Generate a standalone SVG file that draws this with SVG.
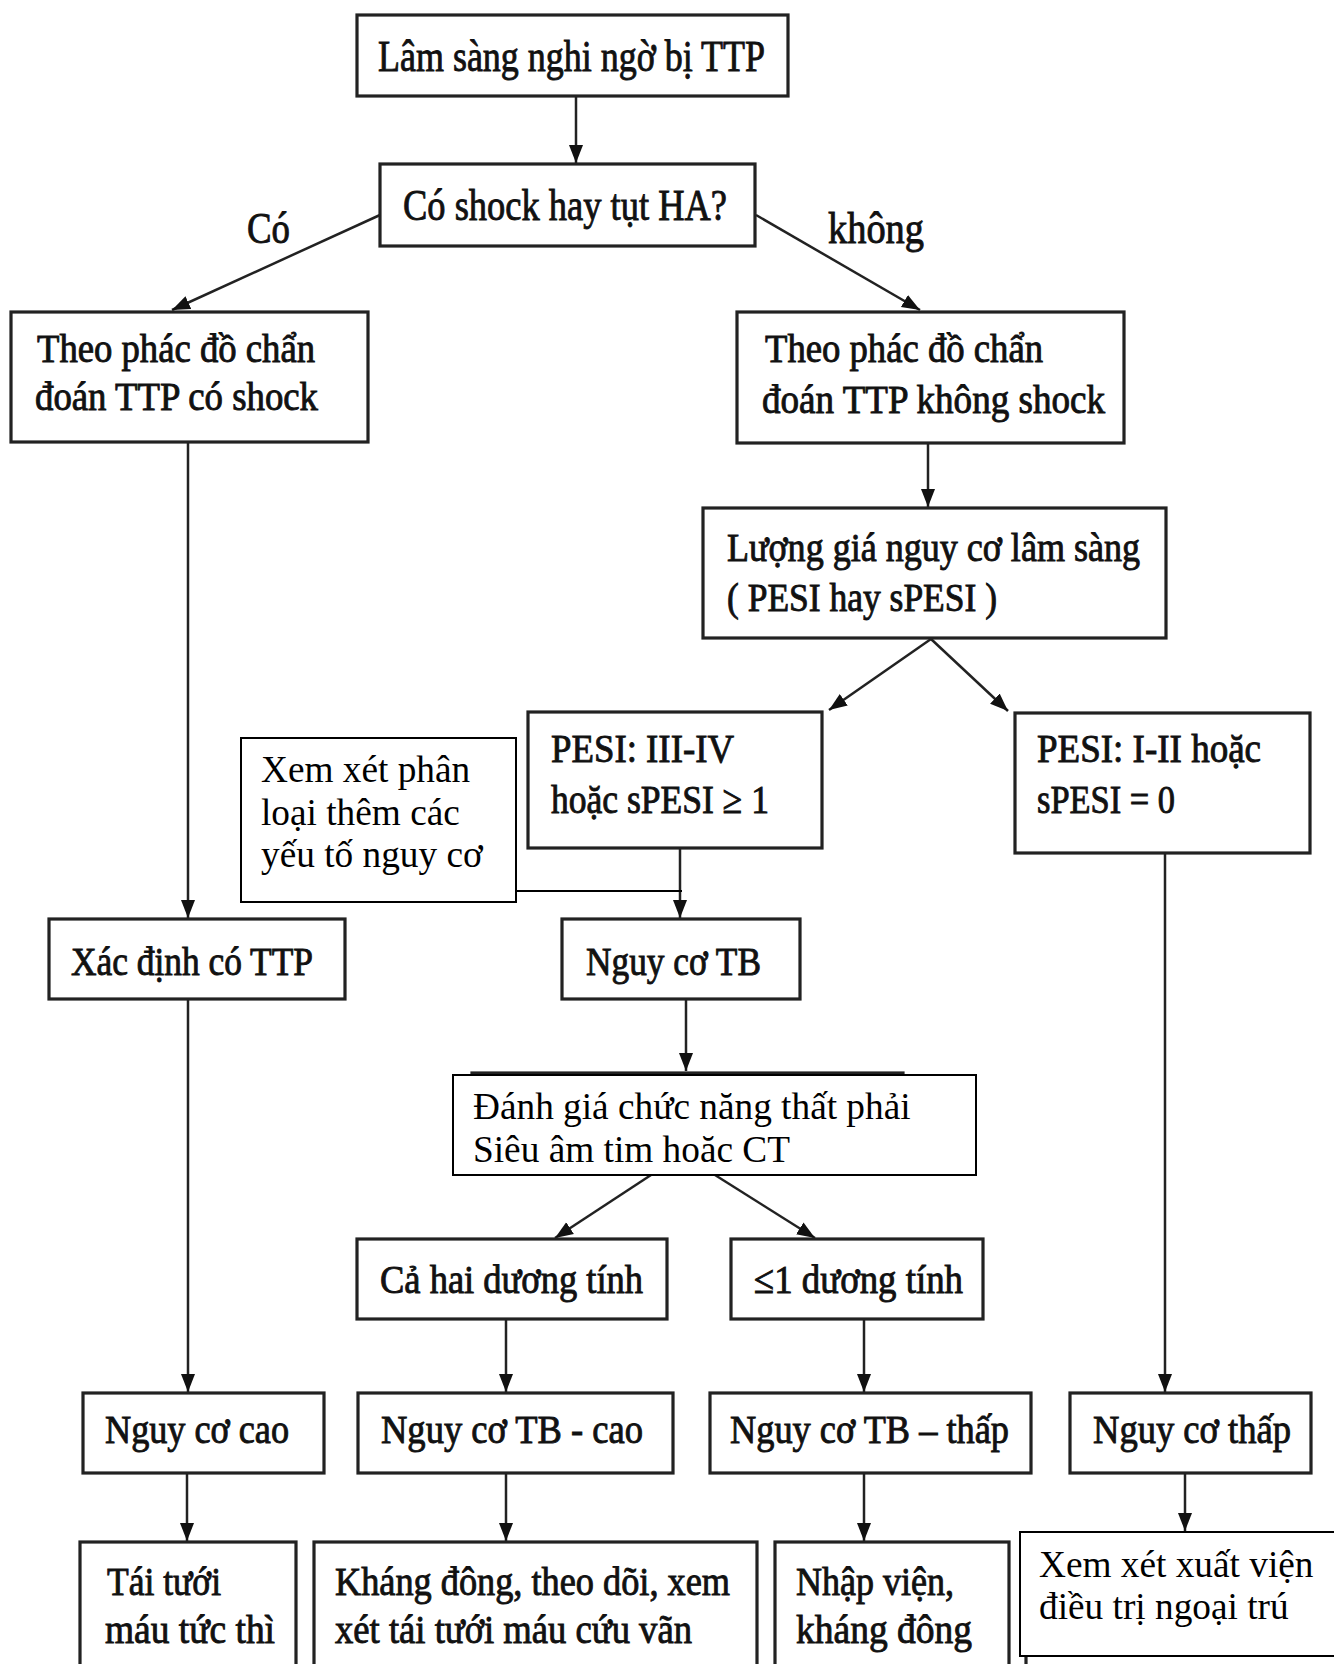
<svg xmlns="http://www.w3.org/2000/svg" width="1334" height="1664" viewBox="0 0 1334 1664">
<style>
.box{fill:#fff;stroke:#222;stroke-width:3.2}
.note{fill:#fff;stroke:#000;stroke-width:2}
.t{font-family:"Liberation Serif","Times New Roman",serif;font-size:40px;fill:#111;stroke:#111;stroke-width:0.9}
.big{font-size:44px}
.n{font-family:"Liberation Serif","Times New Roman",serif;font-size:37.3px;fill:#000}
.c{fill:none;stroke:#222;stroke-width:2.5}
.thin{fill:none;stroke:#000;stroke-width:2}
</style>
<defs>
<marker id="ah" markerUnits="userSpaceOnUse" markerWidth="18" markerHeight="18" viewBox="0 0 18 18" refX="18" refY="9" orient="auto">
<path d="M0,2 L18,9 L0,16 Z" fill="#111"/>
</marker>
</defs>
<rect width="1334" height="1664" fill="#fff"/>

<g id="connectors">
<line class="c" x1="576" y1="96" x2="576" y2="163" marker-end="url(#ah)"/>
<line class="c" x1="380" y1="215" x2="172" y2="310" marker-end="url(#ah)"/>
<line class="c" x1="756" y1="215" x2="920" y2="310" marker-end="url(#ah)"/>
<line class="c" x1="928" y1="443" x2="928" y2="507" marker-end="url(#ah)"/>
<line class="c" x1="931" y1="639" x2="829" y2="710" marker-end="url(#ah)"/>
<line class="c" x1="931" y1="639" x2="1008" y2="711" marker-end="url(#ah)"/>
<line class="c" x1="188" y1="442" x2="188" y2="918" marker-end="url(#ah)"/>
<line class="c" x1="680" y1="848" x2="680" y2="918" marker-end="url(#ah)"/>
<line class="thin" x1="516" y1="891" x2="682" y2="891"/>
<line class="c" x1="1165" y1="853" x2="1165" y2="1392" marker-end="url(#ah)"/>
<line class="c" x1="686" y1="999" x2="686" y2="1071" marker-end="url(#ah)"/>
<line class="c" x1="188" y1="999" x2="188" y2="1392" marker-end="url(#ah)"/>
<line class="c" x1="651" y1="1175" x2="555" y2="1238" marker-end="url(#ah)"/>
<line class="c" x1="715" y1="1175" x2="815" y2="1238" marker-end="url(#ah)"/>
<line class="c" x1="506" y1="1319" x2="506" y2="1392" marker-end="url(#ah)"/>
<line class="c" x1="864" y1="1319" x2="864" y2="1392" marker-end="url(#ah)"/>
<line class="c" x1="187" y1="1473" x2="187" y2="1541" marker-end="url(#ah)"/>
<line class="c" x1="506" y1="1473" x2="506" y2="1541" marker-end="url(#ah)"/>
<line class="c" x1="864" y1="1473" x2="864" y2="1541" marker-end="url(#ah)"/>
<line class="c" x1="1185" y1="1473" x2="1185" y2="1531" marker-end="url(#ah)"/>
</g>

<g id="lbl-co"><text class="t big" x="247" y="243" textLength="43" lengthAdjust="spacingAndGlyphs">Có</text></g>
<g id="lbl-khong"><text class="t big" x="828" y="243" textLength="96" lengthAdjust="spacingAndGlyphs">không</text></g>

<g id="n1"><rect class="box" x="357" y="15" width="431" height="81"/>
<text class="t big" x="378" y="71" textLength="387" lengthAdjust="spacingAndGlyphs">Lâm sàng nghi ngờ bị TTP</text></g>

<g id="n2"><rect class="box" x="380" y="164" width="375" height="82"/>
<text class="t big" x="403" y="220" textLength="324" lengthAdjust="spacingAndGlyphs">Có shock hay tụt HA?</text></g>

<g id="n3"><rect class="box" x="11" y="312" width="357" height="130"/>
<text class="t" x="37" y="362" textLength="278" lengthAdjust="spacingAndGlyphs">Theo phác đồ chẩn</text>
<text class="t" x="35" y="410" textLength="283" lengthAdjust="spacingAndGlyphs">đoán TTP có shock</text></g>

<g id="n4"><rect class="box" x="737" y="312" width="387" height="131"/>
<text class="t" x="765" y="362" textLength="278" lengthAdjust="spacingAndGlyphs">Theo phác đồ chẩn</text>
<text class="t" x="762" y="413" textLength="343" lengthAdjust="spacingAndGlyphs">đoán TTP không shock</text></g>

<g id="n5"><rect class="box" x="703" y="508" width="463" height="130"/>
<text class="t" x="727" y="561" textLength="413" lengthAdjust="spacingAndGlyphs">Lượng giá nguy cơ lâm sàng</text>
<text class="t" x="727" y="611" textLength="270" lengthAdjust="spacingAndGlyphs">( PESI hay sPESI )</text></g>

<g id="n6"><rect class="box" x="528" y="712" width="294" height="136"/>
<text class="t" x="551" y="762" textLength="183" lengthAdjust="spacingAndGlyphs">PESI: III-IV</text>
<text class="t" x="551" y="813" textLength="218" lengthAdjust="spacingAndGlyphs">hoặc sPESI ≥ 1</text></g>

<g id="n7"><rect class="box" x="1015" y="713" width="295" height="140"/>
<text class="t" x="1037" y="762" textLength="224" lengthAdjust="spacingAndGlyphs">PESI: I-II hoặc</text>
<text class="t" x="1037" y="813" textLength="138" lengthAdjust="spacingAndGlyphs">sPESI = 0</text></g>

<g id="note1"><rect class="note" x="241" y="738" width="275" height="164"/>
<text class="n" x="261" y="782">Xem xét phân</text>
<text class="n" x="261" y="825">loại thêm các</text>
<text class="n" x="261" y="867">yếu tố nguy cơ</text></g>

<g id="n9"><rect class="box" x="49" y="919" width="296" height="80"/>
<text class="t" x="71" y="975" textLength="242" lengthAdjust="spacingAndGlyphs">Xác định có TTP</text></g>

<g id="n10"><rect class="box" x="562" y="919" width="238" height="80"/>
<text class="t" x="586" y="975" textLength="175" lengthAdjust="spacingAndGlyphs">Nguy cơ TB</text></g>

<g id="n11"><rect class="box" x="472" y="1073" width="431" height="90"/>
<rect class="note" x="453" y="1075" width="523" height="100"/>
<text class="n" x="473" y="1119">Đánh giá chức năng thất phải</text>
<text class="n" x="473" y="1162">Siêu âm tim hoăc CT</text></g>

<g id="n12"><rect class="box" x="357" y="1239" width="310" height="80"/>
<text class="t" x="380" y="1293" textLength="263" lengthAdjust="spacingAndGlyphs">Cả hai dương tính</text></g>

<g id="n13"><rect class="box" x="731" y="1239" width="252" height="80"/>
<text class="t" x="754" y="1293" textLength="209" lengthAdjust="spacingAndGlyphs">≤1 dương tính</text></g>

<g id="n14"><rect class="box" x="83" y="1393" width="241" height="80"/>
<text class="t" x="105" y="1443" textLength="184" lengthAdjust="spacingAndGlyphs">Nguy cơ cao</text></g>

<g id="n15"><rect class="box" x="358" y="1393" width="315" height="80"/>
<text class="t" x="381" y="1443" textLength="262" lengthAdjust="spacingAndGlyphs">Nguy cơ TB - cao</text></g>

<g id="n16"><rect class="box" x="710" y="1393" width="321" height="80"/>
<text class="t" x="730" y="1443" textLength="279" lengthAdjust="spacingAndGlyphs">Nguy cơ TB – thấp</text></g>

<g id="n17"><rect class="box" x="1070" y="1393" width="241" height="80"/>
<text class="t" x="1093" y="1443" textLength="198" lengthAdjust="spacingAndGlyphs">Nguy cơ thấp</text></g>

<g id="n18"><rect class="box" x="80" y="1542" width="216" height="140"/>
<text class="t" x="107" y="1595" textLength="114" lengthAdjust="spacingAndGlyphs">Tái tưới</text>
<text class="t" x="105" y="1643" textLength="170" lengthAdjust="spacingAndGlyphs">máu tức thì</text></g>

<g id="n19"><rect class="box" x="314" y="1542" width="443" height="140"/>
<text class="t" x="335" y="1595" textLength="395" lengthAdjust="spacingAndGlyphs">Kháng đông, theo dõi, xem</text>
<text class="t" x="335" y="1643" textLength="357" lengthAdjust="spacingAndGlyphs">xét tái tưới máu cứu vãn</text></g>

<g id="n20"><rect class="box" x="775" y="1542" width="234" height="140"/>
<text class="t" x="796" y="1595" textLength="158" lengthAdjust="spacingAndGlyphs">Nhập viện,</text>
<text class="t" x="796" y="1643" textLength="176" lengthAdjust="spacingAndGlyphs">kháng đông</text></g>

<g id="n21"><rect class="box" x="1026" y="1542" width="320" height="140"/>
<rect class="note" x="1020" y="1532" width="330" height="124"/>
<text class="n" x="1039" y="1577">Xem xét xuất viện</text>
<text class="n" x="1039" y="1619">điều trị ngoại trú</text></g>
</svg>
